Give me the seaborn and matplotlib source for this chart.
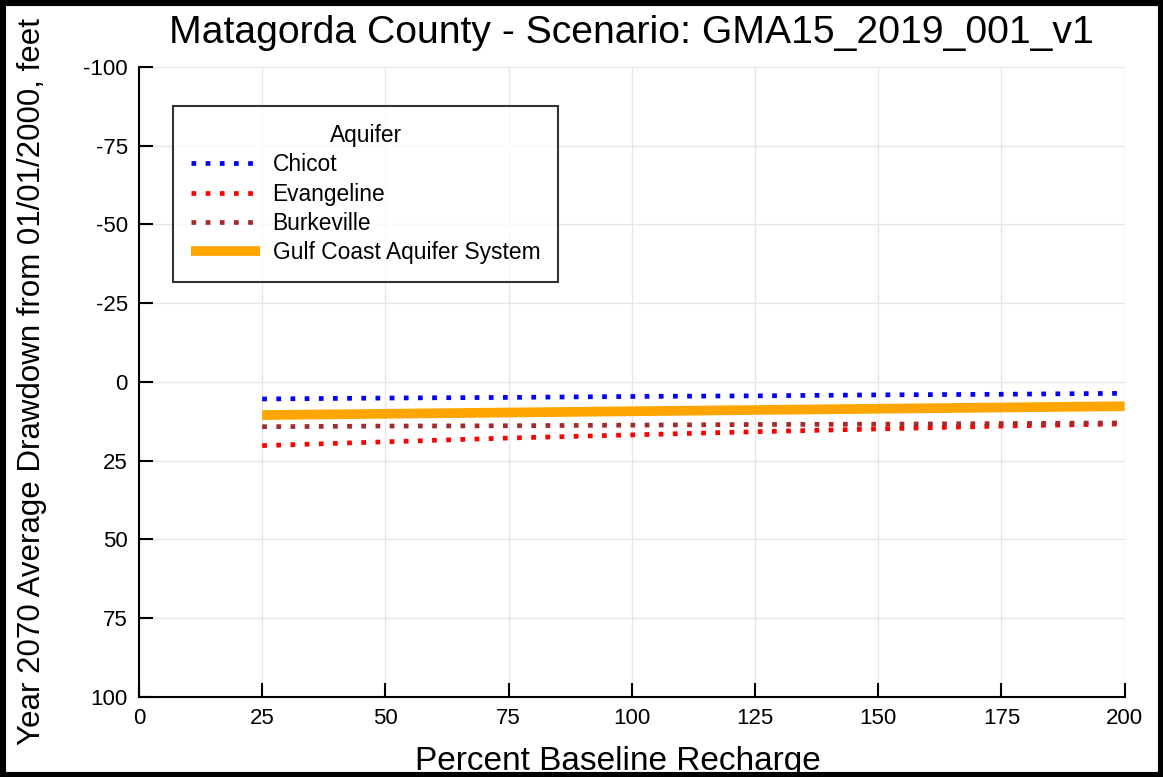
import matplotlib
matplotlib.use("Agg")
import matplotlib.pyplot as plt
from matplotlib.patches import Rectangle
import seaborn as sns
import pandas as pd

recharge = [25, 50, 75, 100, 125, 150, 175, 200]
chicot = [5.4, 5.1, 4.9, 4.6, 4.4, 4.1, 3.9, 3.6]
evangeline = [20.2, 19.0, 17.8, 16.8, 15.8, 14.9, 14.0, 13.3]
burkeville = [14.2, 14.0, 13.9, 13.7, 13.5, 13.4, 13.2, 13.0]
gulf_coast = [10.5, 10.1, 9.7, 9.3, 8.9, 8.5, 8.1, 7.7]

series_names = ["Chicot", "Evangeline", "Burkeville", "Gulf Coast Aquifer System"]
series_values = [chicot, evangeline, burkeville, gulf_coast]
colors = ["#0000FF", "#FF0000", "#A52A2A", "#FFA500"]

sns.set_theme(style="white")
plt.rcParams["font.family"] = ["Liberation Sans", "DejaVu Sans"]
plt.rcParams["text.color"] = "black"
plt.rcParams["axes.labelcolor"] = "black"
plt.rcParams["xtick.color"] = "black"
plt.rcParams["ytick.color"] = "black"
plt.rcParams["axes.unicode_minus"] = False

fig = plt.figure(figsize=(11.63, 7.77), dpi=100)
ax = fig.add_axes([0.1195, 0.103, 0.8475, 0.8108])

for name, vals, col in zip(series_names, series_values, colors):
    df = pd.DataFrame({"x": recharge, "y": vals})
    if name.startswith("Gulf"):
        sns.lineplot(data=df, x="x", y="y", ax=ax, color=col, linewidth=7,
                     label=name, solid_capstyle="butt")
    else:
        sns.lineplot(data=df, x="x", y="y", ax=ax, color=col, linewidth=3.4,
                     linestyle=(0, (1, 2.0)), label=name, dash_capstyle="butt")

ax.set_xlim(0, 200)
ax.set_ylim(100, -100)
ax.set_xticks([0, 25, 50, 75, 100, 125, 150, 175, 200])
ax.set_yticks([-100, -75, -50, -25, 0, 25, 50, 75, 100])
ax.grid(True, color="#e6e6e6", linewidth=1)
for s in ["top", "right"]:
    ax.spines[s].set_visible(False)
for s in ["left", "bottom"]:
    ax.spines[s].set_color("black")
    ax.spines[s].set_linewidth(1.5)
ax.tick_params(axis="both", direction="in", length=10, width=1.5, labelsize=16,
               colors="black", left=True, bottom=True, pad=8)

ax.set_title("Matagorda County - Scenario: GMA15_2019_001_v1", fontsize=28.2, pad=17)
ax.set_xlabel("Percent Baseline Recharge", fontsize=24)
ax.set_ylabel("Year 2070 Average Drawdown from 01/01/2000, feet", fontsize=22.5)
ax.xaxis.set_label_coords(0.486, -0.078)
ax.yaxis.set_label_coords(-0.093, 0.5)

leg = ax.legend(title="Aquifer", loc="upper left", bbox_to_anchor=(0.0345, 0.938),
                fontsize=16.4, title_fontsize=16.4, handlelength=3.0, handletextpad=0.57,
                frameon=True, fancybox=False, borderpad=0.8, labelspacing=0.27,
                borderaxespad=0)
leg.get_frame().set_edgecolor("black")
leg.get_frame().set_linewidth(1.5)

fig.patches.append(Rectangle((0, 0), 1, 1, transform=fig.transFigure, fill=False,
                             edgecolor="black", linewidth=8, zorder=10))

fig.savefig("out.png", dpi=100)
